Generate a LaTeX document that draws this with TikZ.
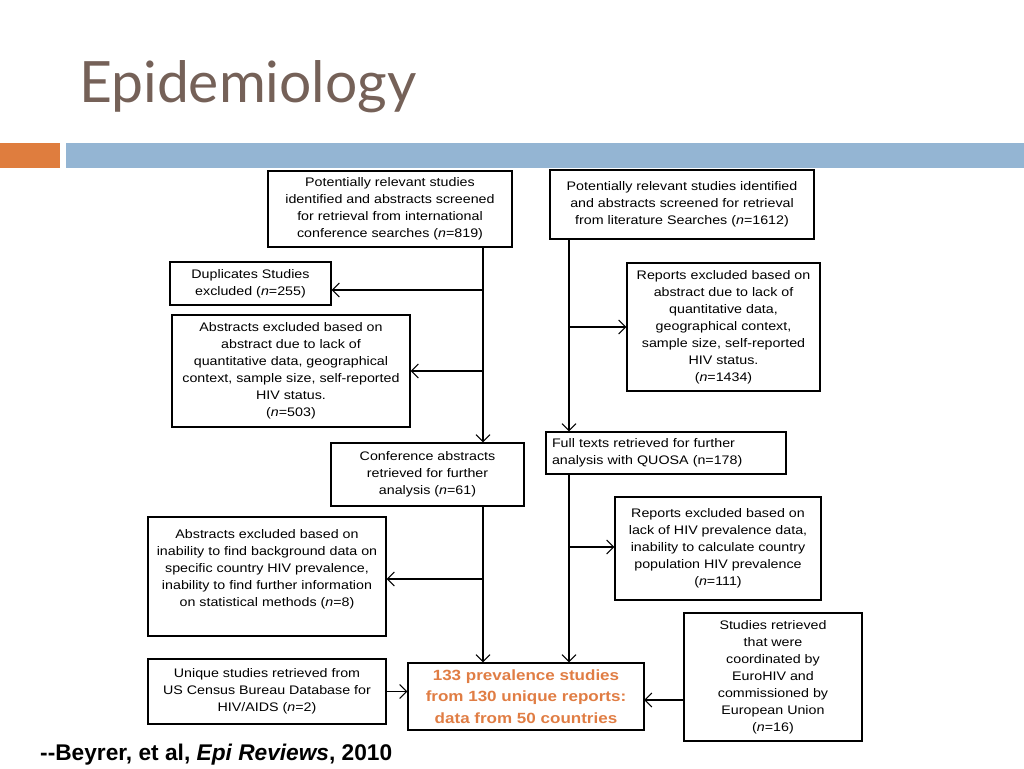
\documentclass[tikz,border=0pt]{standalone}
\usepackage{fontspec}
\setmainfont{Liberation Sans}
\newfontfamily\titlefont{Lato}
\newfontfamily\boxfont{Liberation Sans}[FakeStretch=1.15]
\usepackage{tikz}
\usetikzlibrary{arrows.meta}

\definecolor{titlebrown}{RGB}{117,97,88}
\definecolor{barorange}{RGB}{223,125,62}
\definecolor{barblue}{RGB}{148,181,211}
\definecolor{finalorange}{RGB}{224,125,68}

\tikzset{
  flowbox/.style={draw, line width=1.1pt, align=center, inner sep=0pt,
    font=\boxfont\fontsize{12.4}{17}\selectfont},
  arr/.style={-{Straight Barb[length=7pt,width=14pt]}, line width=1.1pt}
}

\begin{document}
\begin{tikzpicture}[x=1pt, y=-1pt]
  \useasboundingbox (0,0) rectangle (1024,768);
  % header
  \node[anchor=base west, inner sep=0pt, text=titlebrown, font=\titlefont\fontsize{57}{60}\selectfont] (title) at (79,102) {Epidemiology};
  \fill[barorange] (0,143) rectangle (60,168);
  \fill[barblue] (66,143) rectangle (1024,168);

  % boxes
  \node[flowbox, minimum width=244, minimum height=76] (confsearch) at (390,209)
    {Potentially relevant studies\\identified and abstracts screened\\for retrieval from international\\conference searches (\textit{n}=819)};
  \node[flowbox, minimum width=264, minimum height=69] (litsearch) at (682,204.5)
    {Potentially relevant studies identified\\and abstracts screened for retrieval\\from literature Searches (\textit{n}=1612)};
  \node[flowbox, minimum width=161, minimum height=43] (dupl) at (250.5,283.5)
    {Duplicates Studies\\excluded (\textit{n}=255)};
  \node[flowbox, minimum width=238, minimum height=112] (absone) at (291,371)
    {Abstracts excluded based on\\abstract due to lack of\\quantitative data, geographical\\context, sample size, self-reported\\HIV status.\\(\textit{n}=503)};
  \node[flowbox, minimum width=193, minimum height=128] (repone) at (723.5,327)
    {Reports excluded based on\\abstract due to lack of\\quantitative data,\\geographical context,\\sample size, self-reported\\HIV status.\\(\textit{n}=1434)};
  \node[flowbox, minimum width=193, minimum height=63] (confabs) at (427.5,474.5)
    {Conference abstracts\\retrieved for further\\analysis (\textit{n}=61)};
  \node[flowbox, align=left, text width=228, minimum width=240, minimum height=42] (fulltext) at (666,453)
    {Full texts retrieved for further\\analysis with QUOSA (n=178)};
  \node[flowbox, minimum width=238, minimum height=119] (abstwo) at (267,576.5)
    {Abstracts excluded based on\\inability to find background data on\\specific country HIV prevalence,\\inability to find further information\\on statistical methods (\textit{n}=8)\\\mbox{}};
  \node[flowbox, minimum width=206, minimum height=103] (reptwo) at (718,548.5)
    {Reports excluded based on\\lack of HIV prevalence data,\\inability to calculate country\\population HIV prevalence\\(\textit{n}=111)};
  \node[flowbox, minimum width=178, minimum height=128] (euro) at (773,677)
    {Studies retrieved\\that were\\coordinated by\\EuroHIV and\\commissioned by\\European Union\\(\textit{n}=16)};
  \node[flowbox, minimum width=238, minimum height=65] (census) at (267,691.5)
    {Unique studies retrieved from\\US Census Bureau Database for\\HIV/AIDS (\textit{n}=2)};
  \node[flowbox, minimum width=236, minimum height=67, text=finalorange,
    font=\boxfont\bfseries\fontsize{14.8}{21.5}\selectfont] (final) at (526,696.5)
    {133 prevalence studies\\from 130 unique reports:\\data from 50 countries};

  % trunk lines and branch points
  \coordinate (leftx) at (483,0);
  \coordinate (rightx) at (569,0);
  \coordinate (ldup) at (483,290);
  \coordinate (labs) at (483,371);
  \coordinate (labstwo) at (483,579);
  \coordinate (rrep) at (569,327);
  \coordinate (rreptwo) at (569,547);
  \coordinate (feuro) at (644,700);

  \draw[arr] (confsearch.south -| leftx) -- (confabs.north -| leftx);
  \draw[arr] (ldup) -- (dupl.east |- ldup);
  \draw[arr] (labs) -- (absone.east |- labs);
  \draw[arr] (confabs.south -| leftx) -- (final.north -| leftx);
  \draw[arr] (labstwo) -- (abstwo.east |- labstwo);

  \draw[arr] (litsearch.south -| rightx) -- (fulltext.north -| rightx);
  \draw[arr] (rrep) -- (repone.west |- rrep);
  \draw[arr] (fulltext.south -| rightx) -- (final.north -| rightx);
  \draw[arr] (rreptwo) -- (reptwo.west |- rreptwo);

  \draw[arr] (census.east) -- (final.west |- census.east);
  \draw[arr] (euro.west |- feuro) -- (feuro);

  % citation
  \node[anchor=base west, inner sep=0pt, font=\bfseries\fontsize{22.7}{26}\selectfont] (cite) at (40,760)
    {-{}-Beyrer, et al, \textit{Epi Reviews}, 2010};
\end{tikzpicture}
\end{document}
